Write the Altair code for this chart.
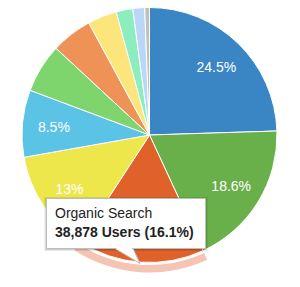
import altair as alt
import pandas as pd

# Slice data (clockwise from 12 o'clock)
names = ["Direct", "Referral", "Organic Search", "Social", "Paid Search",
         "Email", "Display", "Affiliates", "Video", "Partners", "(Other)"]
shares = [24.5, 18.6, 16.1, 13.0, 8.5, 6.2, 5.2, 3.7, 2.1, 1.5, 0.6]
labels = ["24.5%", "18.6%", "", "13%", "8.5%", "", "", "", "", "", ""]
colors = ["#3A86C4", "#6AB04A", "#E0622B", "#EDE74C", "#5BC3E6",
          "#7ED56E", "#EE9257", "#FCE57A", "#8CEDBF", "#BBD7F7", "#C0C0C0"]

highlight_name = "Organic Search"
highlight_users = 38878
highlight_share = 16.1

df = pd.DataFrame({
    "name": names,
    "share": shares,
    "label": labels,
    "order": list(range(len(names))),
})

CX, CY, R = 149.5, 135, 127.5
FONT = "Liberation Sans"

base = alt.Chart(df)
theta = alt.Theta("share:Q", stack=True)
order = alt.Order("order:Q")

pie = base.mark_arc(stroke="white", strokeWidth=1).encode(
    theta=theta,
    order=order,
    color=alt.Color("name:N", scale=alt.Scale(domain=names, range=colors), legend=None),
    x=alt.value(CX), y=alt.value(CY),
    radius=alt.value(R),
)

ring = base.mark_arc(fill="#F4C5B4").encode(
    theta=theta,
    order=order,
    opacity=alt.condition(f"datum.name == '{highlight_name}'", alt.value(1), alt.value(0)),
    x=alt.value(CX), y=alt.value(CY),
    radius=alt.value(130), radius2=alt.value(137.5),
)

text = base.mark_text(font=FONT, fontSize=14, color="white",
                      align="center", baseline="middle", dy=2).encode(
    theta=theta,
    order=order,
    text="label:N",
    x=alt.value(CX), y=alt.value(CY),
    radius=alt.value(96),
)

one = alt.Chart(pd.DataFrame({"k": [0]}))

shadow1 = one.mark_rect(fill="black", opacity=0.10).encode(
    x=alt.value(44.5), x2=alt.value(207.5), y=alt.value(197), y2=alt.value(251))
shadow2 = one.mark_rect(fill="black", opacity=0.10).encode(
    x=alt.value(45.5), x2=alt.value(206.5), y=alt.value(198), y2=alt.value(250))
box = one.mark_rect(fill="white", stroke="#BDBDBD", strokeWidth=1).encode(
    x=alt.value(46.5), x2=alt.value(205.5), y=alt.value(198.5), y2=alt.value(248.5))
pointer = one.mark_point(shape="M -0.6 -0.5 L 0.6 -0.5 L 1.067 0.5 Z", size=900,
                         filled=True, fill="white", stroke="#BDBDBD",
                         strokeWidth=1, opacity=1).encode(
    x=alt.value(124), y=alt.value(256))
cover = one.mark_rule(color="white", strokeWidth=2).encode(
    x=alt.value(116.5), x2=alt.value(132), y=alt.value(248.5))

title_txt = one.mark_text(font=FONT, fontSize=14, color="#222222", align="left",
                          baseline="alphabetic", text=highlight_name).encode(
    x=alt.value(55), y=alt.value(218))
value_txt = one.mark_text(font=FONT, fontSize=14, fontWeight="bold", color="#222222",
                          align="left", baseline="alphabetic",
                          text=f"{highlight_users:,} Users ({highlight_share}%)").encode(
    x=alt.value(55), y=alt.value(237))

chart = alt.layer(ring, pie, text, shadow1, shadow2, box, pointer, cover,
                  title_txt, value_txt).properties(
    width=300, height=287,
    autosize=alt.AutoSizeParams(type="none"),
    padding=0,
).configure_view(stroke=None)

chart.save("out.html", embed_options={"renderer": "svg", "actions": False})
